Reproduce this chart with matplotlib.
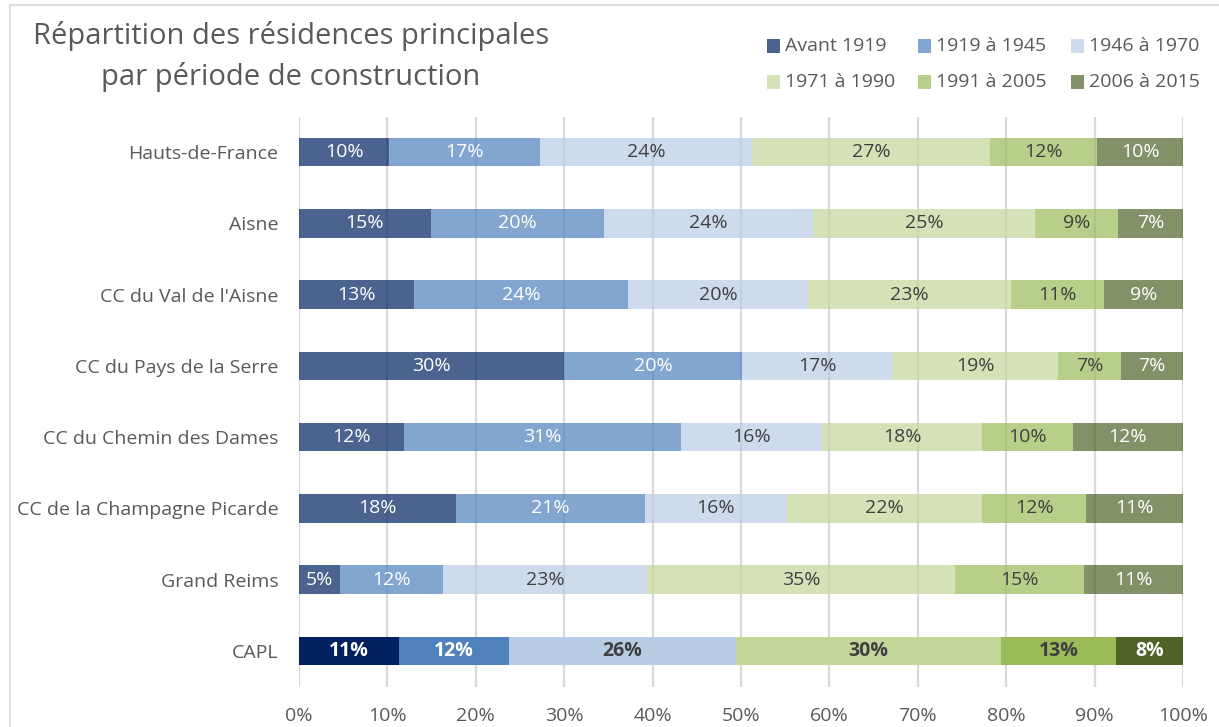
import matplotlib
matplotlib.use("Agg")
import matplotlib.pyplot as plt
from matplotlib.colors import to_rgba
from matplotlib.patches import Rectangle
from matplotlib.lines import Line2D
import numpy as np

# ── Data (percent of principal residences by construction period) ────────────
categories = [
    "Hauts-de-France",
    "Aisne",
    "CC du Val de l'Aisne",
    "CC du Pays de la Serre",
    "CC du Chemin des Dames",
    "CC de la Champagne Picarde",
    "Grand Reims",
    "CAPL",
]
periods = ["Avant 1919", "1919 à 1945", "1946 à 1970",
           "1971 à 1990", "1991 à 2005", "2006 à 2015"]

avant_1919 = [10.2, 14.9, 13.0, 30.0, 11.9, 17.8, 4.6, 11.3]
p1919_1945 = [17.1, 19.6, 24.2, 20.1, 31.3, 21.3, 11.7, 12.4]
p1946_1970 = [24.0, 23.7, 20.4, 17.0, 16.0, 16.1, 23.1, 25.7]
p1971_1990 = [26.9, 25.1, 22.9, 18.8, 18.1, 22.1, 34.8, 30.0]
p1991_2005 = [12.1, 9.4, 10.6, 7.1, 10.2, 11.7, 14.6, 13.0]
p2006_2015 = [9.7, 7.3, 8.9, 7.0, 12.5, 11.0, 11.2, 7.6]

highlight = "CAPL"

# ── Style ─────────────────────────────────────────────────────────────────────
BASE_COLORS = ["#002060", "#4f81bd", "#b8cce4", "#c4d79b", "#9bbb59", "#4f6228"]
LABEL_COLORS = ["white", "white", "#404040", "#404040", "#404040", "white"]
FADE = 0.7
GRID = "#d9d9d9"
TEXT = "#595959"
W, H = 1219, 727
FS = 14

plt.rcParams["font.family"] = ["Open Sans", "DejaVu Sans"]

series = [avant_1919, p1919_1945, p1946_1970, p1971_1990, p1991_2005, p2006_2015]

fig = plt.figure(figsize=(W / 100, H / 100), dpi=100)
fig.patch.set_facecolor("white")


def px(x, y):
    """pixel coords (top-left origin) -> figure fraction"""
    return x / W, 1 - y / H


ax = fig.add_axes([299 / W, 1 - 686.5 / H, (1183 - 299) / W, 570 / H])

ypos = np.arange(len(categories))
left = np.zeros(len(categories))
for j, vals in enumerate(series):
    vals = np.array(vals)
    cols = [to_rgba(BASE_COLORS[j], 1.0 if c == highlight else FADE)
            for c in categories]
    bars = ax.barh(ypos, vals, left=left, height=0.4, color=cols,
                   label=periods[j], zorder=2)
    texts = ax.bar_label(bars, labels=[f"{v:.0f}%" for v in vals],
                         label_type="center", color=LABEL_COLORS[j],
                         fontsize=FS)
    for t, c in zip(texts, categories):
        if c == highlight:
            t.set_fontweight("bold")
    left += vals

ax.set_xlim(0, 100)
ax.set_ylim(len(categories) - 0.5, -0.5)
ax.set_xticks(range(0, 101, 10))
ax.set_xticklabels([f"{t}%" for t in range(0, 101, 10)])
ax.set_yticks(ypos)
ax.set_yticklabels(categories)
ax.tick_params(axis="both", length=0, colors=TEXT, labelsize=FS)
ax.tick_params(axis="x", pad=15)
ax.tick_params(axis="y", pad=15)
ax.xaxis.grid(True, color=GRID, lw=1.6, zorder=0)
ax.set_axisbelow(True)
for s in ax.spines.values():
    s.set_visible(False)

# ── Title ─────────────────────────────────────────────────────────────────────
fig.text(*px(291, 36), "Répartition des résidences principales",
         ha="center", va="center", fontsize=21, color=TEXT)
fig.text(*px(291, 77), "par période de construction",
         ha="center", va="center", fontsize=21, color=TEXT)

# ── Legend (2 rows x 3 cols) ─────────────────────────────────────────────────
handles, _ = ax.get_legend_handles_labels()
col_x = [767, 918, 1071]
row_y = [46, 82]
sq = 13
for k, name in enumerate(periods):
    r, c = divmod(k, 3)
    x0, y0 = col_x[c], row_y[r]
    fc = handles[k].patches[0].get_facecolor()
    fig.add_artist(Rectangle(px(x0, y0 + sq / 2), sq / W, sq / H,
                             transform=fig.transFigure, facecolor=fc,
                             edgecolor="none"))
    fig.text(*px(x0 + 18, y0), name, ha="left", va="center",
             fontsize=FS, color=TEXT)

# ── Chart area border (cropped) ──────────────────────────────────────────────
fig.add_artist(Line2D([10 / W, 10 / W], [0, 1 - 5 / H],
                      transform=fig.transFigure, color=GRID, lw=1.2))
fig.add_artist(Line2D([10 / W, 1], [1 - 5 / H, 1 - 5 / H],
                      transform=fig.transFigure, color=GRID, lw=1.2))

fig.savefig("out.png", dpi=100, facecolor="white")
